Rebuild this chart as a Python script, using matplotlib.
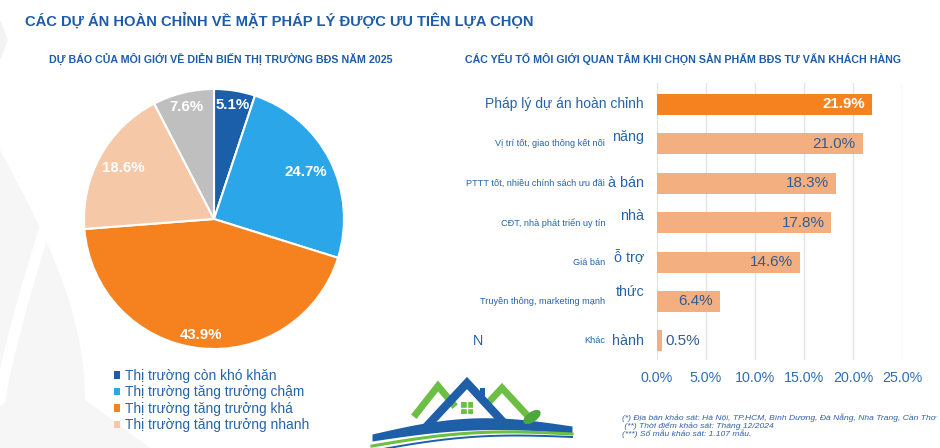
import matplotlib
matplotlib.use('Agg')
import matplotlib.pyplot as plt
from matplotlib.patches import Rectangle, Polygon, Ellipse
import numpy as np

plt.rcParams['font.family'] = ['Liberation Sans', 'DejaVu Sans']

# ---------------- data ----------------
title = "CÁC DỰ ÁN HOÀN CHỈNH VỀ MẶT PHÁP LÝ ĐƯỢC ƯU TIÊN LỰA CHỌN"
pie_title = "DỰ BÁO CỦA MÔI GIỚI VỀ DIỄN BIẾN THỊ TRƯỜNG BĐS NĂM 2025"
bar_title = "CÁC YẾU TỐ MÔI GIỚI QUAN TÂM KHI CHỌN SẢN PHẨM BĐS TƯ VẤN KHÁCH HÀNG"

pie_labels = ["Thị trường còn khó khăn", "Thị trường tăng trưởng chậm",
              "Thị trường tăng trưởng khá", "Thị trường tăng trưởng nhanh", "Khác"]
pie_values = [5.1, 24.7, 43.9, 18.6, 7.6]
pie_colors = ['#1B5FAB', '#2BA6E9', '#F5821F', '#F5C8A8', '#BFBFBF']

bar_labels = ["Pháp lý dự án hoàn chỉnh", "Vị trí tốt, giao thông kết nối",
              "PTTT tốt, nhiều chính sách ưu đãi", "CĐT, nhà phát triển uy tín",
              "Giá bán", "Truyền thông, marketing mạnh", "Khác"]
bar_values = [21.9, 21.0, 18.3, 17.8, 14.6, 6.4, 0.5]
bar_colors = ['#F5821F', '#F4AF80', '#F4AF80', '#F4AF80', '#F4AF80', '#F4AF80', '#F4AF80']
xticks = [0, 5, 10, 15, 20, 25]

# leftover fragments of overlaid labels visible in the picture
stray = ["", "năng", "à bán", "nhà", "ỗ trợ", "thức", "hành"]
stray_dy = [0, -0.17, 0, -0.16, -0.15, -0.23, 0]

footnotes = ["(*) Địa bàn khảo sát: Hà Nội, TP.HCM, Bình Dương, Đà Nẵng, Nha Trang, Cần Thơ",
             " (**) Thời điểm khảo sát: Tháng 12/2024",
             "(***) Số mẫu khảo sát: 1.107 mẫu."]

# ---------------- figure ----------------
W, H = 940, 448
fig = plt.figure(figsize=(W / 100, H / 100), dpi=100)
fig.patch.set_facecolor('white')

def fx(x):
    return x / W

def fy(y):
    return 1 - y / H

BLUE = '#1E5BA9'
TXT = '#2563A8'

# background decoration axes (pixel coordinates)
bg = fig.add_axes([0, 0, 1, 1])
bg.set_xlim(0, W)
bg.set_ylim(H, 0)
bg.axis('off')
t = np.linspace(0, 1, 80)
# faint swoosh on the left
outer_x = np.concatenate([[0], 70 * np.sin(t * np.pi * 0.55) + 8 * t, [0]])
outer_y = np.concatenate([[110], 110 + 300 * t, [448]])
bg.fill(np.concatenate([[0], 0 + 85 * np.sin(t * np.pi * 0.5), [150, 0]]),
        np.concatenate([[120], 150 + 250 * t, [448, 448]]),
        color='#F6F6F6', lw=0, zorder=0)
bg.plot(72 * (1 - t) ** 1.2, 145 + 255 * t, color='white', lw=8, solid_capstyle='round', zorder=1)
bg.add_patch(Polygon([(0, 20), (8, 40), (0, 60)], closed=True, facecolor='#F3F3F3',
                     edgecolor='none', zorder=0))

# logo (decorative)
bg.plot([416, 438, 453], [414, 386, 404], color='#6DBE45', lw=5, solid_joinstyle='miter', zorder=3)
bg.plot([489, 502, 526], [402, 388, 414], color='#6DBE45', lw=5, solid_joinstyle='miter', zorder=3)
bg.plot([427, 467, 504], [426, 383, 423], color='#1F5FA8', lw=6, solid_joinstyle='miter', zorder=4)
bg.add_patch(Rectangle((480, 388), 5, 11, facecolor='#1F5FA8', edgecolor='none', zorder=4))
bg.add_patch(Rectangle((461, 402), 12, 12, facecolor='#6DBE45', edgecolor='none', zorder=4))
bg.plot([467, 467], [402, 414], color='white', lw=1, zorder=5)
bg.plot([461, 473], [408, 408], color='white', lw=1, zorder=5)
xs = np.linspace(372, 572, 80)
up = 434 - 12 * np.sin((xs - 372) / 200 * np.pi) - (xs - 372) * 0.04
lo = up + 7 + 5 * np.sin((xs - 372) / 200 * np.pi)
bg.fill_between(xs, up, lo, color='#1F5FA8', lw=0, zorder=3)
bg.plot(xs, lo + 5 - (xs - 372) * 0.02, color='#6DBE45', lw=2.2, zorder=3)
bg.plot(xs, lo + 10 - (xs - 372) * 0.03, color='#1F5FA8', lw=1.4, zorder=3)
bg.add_patch(Ellipse((532, 417), 20, 10, angle=-35, facecolor='#4CA83A', edgecolor='none', zorder=4))

# titles
fig.text(fx(25), fy(21), title, fontsize=10.6, fontweight='bold', color=BLUE, va='center', ha='left')
fig.text(fx(49), fy(59), pie_title, fontsize=7.7, fontweight='bold', color=BLUE, va='center', ha='left')
fig.text(fx(465), fy(59), bar_title, fontsize=7.7, fontweight='bold', color=BLUE, va='center', ha='left')

# ---------------- pie ----------------
ax1 = fig.add_axes([fx(84), fy(349), 260 / W, 260 / H])
wedges, _ = ax1.pie(pie_values, colors=pie_colors, startangle=90, counterclock=False,
                    wedgeprops=dict(edgecolor='white', linewidth=1.5))
ax1.set_xlim(-1.0, 1.0)
ax1.set_ylim(-1.0, 1.0)
label_r = [0.89, 0.79, 0.9, 0.8, 0.89]
for w, v, r in zip(wedges, pie_values, label_r):
    ang = np.deg2rad((w.theta1 + w.theta2) / 2)
    ax1.text(r * np.cos(ang), r * np.sin(ang), f"{v:.1f}%", ha='center', va='center',
             color='white', fontsize=10.8, fontweight='bold')

handles = [Rectangle((0, 0), 1, 1, facecolor=c, edgecolor='none') for c in pie_colors[:4]]
fig.legend(handles=handles, labels=pie_labels[:4], loc='upper left',
           bbox_to_anchor=(fx(114), fy(369)), frameon=False, fontsize=9.9,
           handlelength=0.45, handleheight=0.45, handletextpad=0.35,
           labelspacing=0.18, borderaxespad=0, borderpad=0, labelcolor=TXT)

# ---------------- bars ----------------
ax2 = fig.add_axes([fx(657), fy(360), 245 / W, 277 / H])
y = np.arange(len(bar_values))
ax2.barh(y, bar_values, height=0.53, color=bar_colors, zorder=2)
ax2.set_xlim(0, 25)
ax2.set_ylim(6.485, -0.545)
ax2.set_xticks(xticks)
ax2.set_xticklabels([f"{t:.1f}%" for t in xticks])
ax2.set_yticks([])
ax2.tick_params(axis='x', length=0, pad=8, labelsize=10.3, labelcolor='#2E6DB4')
ax2.grid(axis='x', color='#E4E4E4', linewidth=1, zorder=0)
ax2.set_axisbelow(True)
for s in ax2.spines.values():
    s.set_visible(False)

for i, v in enumerate(bar_values):
    if i == 0:
        ax2.annotate(f"{v:.1f}%", xy=(v, i), xytext=(-4.5, 0), textcoords='offset points',
                     ha='right', va='center', color='white', fontsize=10.8, fontweight='bold')
    elif v < 3:
        ax2.annotate(f"{v:.1f}%", xy=(v, i), xytext=(2.5, 0), textcoords='offset points',
                     ha='left', va='center', color='#2F5D95', fontsize=11)
    else:
        ax2.annotate(f"{v:.1f}%", xy=(v, i), xytext=(-5, 0), textcoords='offset points',
                     ha='right', va='center', color='#2F5D95', fontsize=11)

for i, lab in enumerate(bar_labels):
    if i == 0:
        ax2.annotate(lab, xy=(0, i), xycoords=('axes fraction', 'data'), xytext=(-9.4, 0),
                     textcoords='offset points', ha='right', va='center', color=TXT, fontsize=10)
    else:
        ax2.annotate(lab, xy=(0, i), xycoords=('axes fraction', 'data'), xytext=(-37.4, 0),
                     textcoords='offset points', ha='right', va='center', color=TXT, fontsize=6.6)
for i, (s, dy) in enumerate(zip(stray, stray_dy)):
    if s:
        ax2.annotate(s, xy=(0, i + dy), xycoords=('axes fraction', 'data'), xytext=(-9.4, 0),
                     textcoords='offset points', ha='right', va='center', color=TXT, fontsize=10.3)
ax2.annotate("N", xy=(0, 6), xycoords=('axes fraction', 'data'), xytext=(-129, 0),
             textcoords='offset points', ha='center', va='center', color=TXT, fontsize=10.3)

# footnotes
for k, (line, yy) in enumerate(zip(footnotes, [418, 426, 434])):
    fig.text(fx(622), fy(yy), line, fontsize=6.1, style='italic', color='#2F5FA8',
             va='center', ha='left')

fig.savefig('out.png', dpi=100)
